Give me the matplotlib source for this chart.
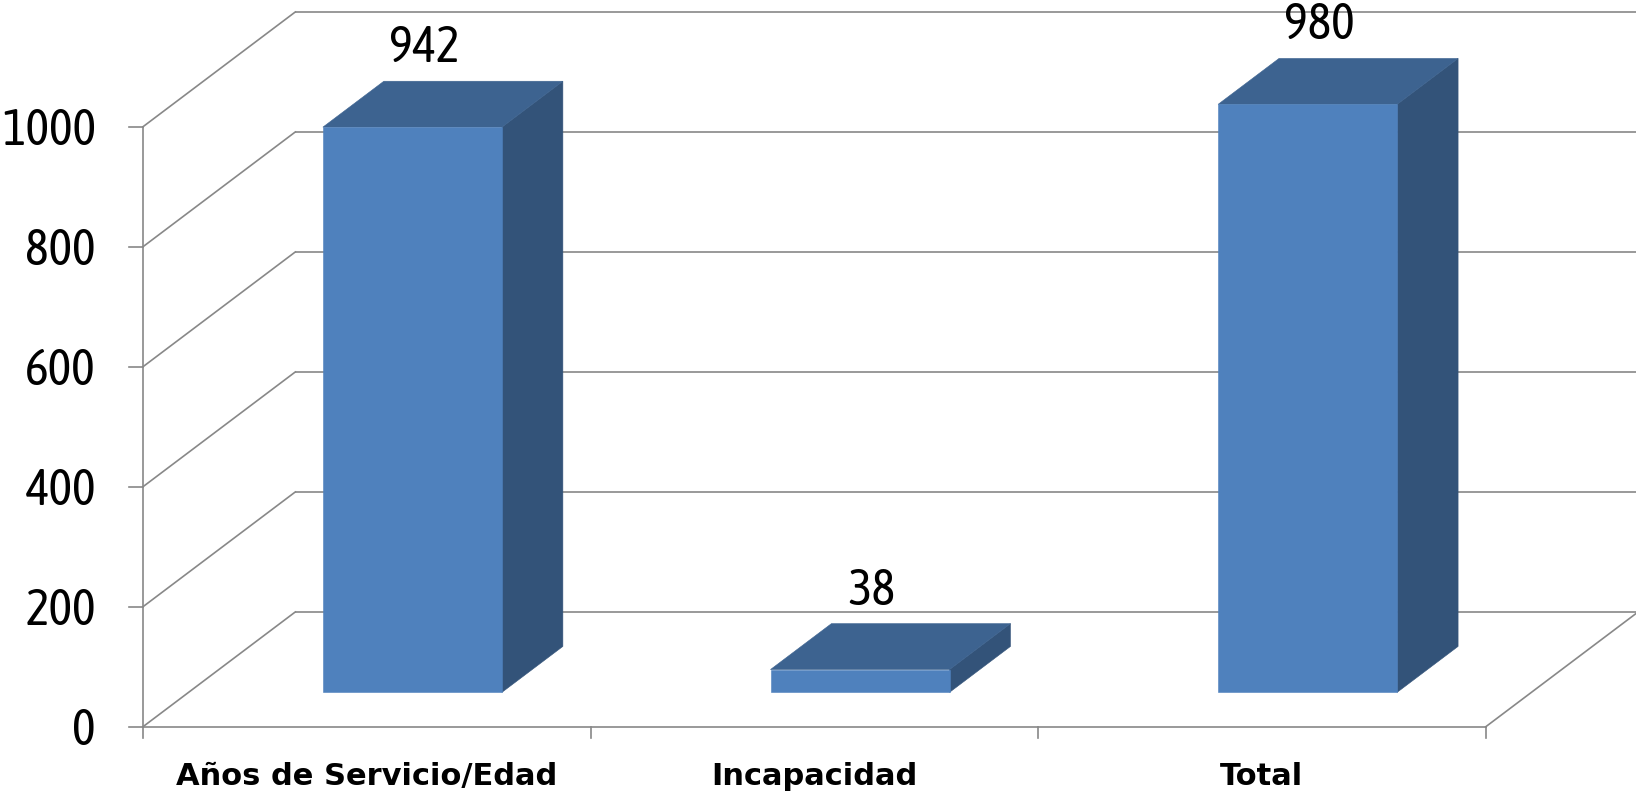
import matplotlib
matplotlib.use("Agg")
import matplotlib.pyplot as plt
from matplotlib.patches import Polygon
from matplotlib.transforms import offset_copy

# ---- data ----
categories = ["Años de Servicio/Edad", "Incapacidad", "Total"]
values = [942, 38, 980]
yticks = [0, 200, 400, 600, 800, 1000]

# ---- style / geometry ----
W, H = 1636, 793
DPI = 100
FRONT = "#4F81BD"
SIDE = "#335379"
TOP = "#3D6390"
GRID = "#888888"
NUMFONT = ["Asap Condensed", "Archivo Narrow", "DejaVu Sans"]

DX = 0.3403    # full depth, horizontal shift in category units
DY = 191.3     # full depth, vertical shift in value units
D0, D1 = 0.3, 0.7   # bar depth range
G0, G1 = 0.3, 0.7   # bar width range inside slot

fig = plt.figure(figsize=(W / DPI, H / DPI), dpi=DPI)
ax = fig.add_axes([0, 0, 1, 1])
ax.set_xlim(-0.3193, 3.3357)
ax.set_ylim(-110.4, 1211.3)
ax.axis("off")

n = len(categories)
ymax = yticks[-1]
lw = 1.2

def P(x, y, d):
    return (x + DX * d, y + DY * d)

# walls: horizontal back lines and side diagonals
for t in yticks:
    bx, by = P(0, t, 1)
    ex, _ = P(n, t, 1)
    ax.plot([bx, ex], [by, by], color=GRID, lw=lw, solid_capstyle="butt", clip_on=False)
    ax.plot([0, bx], [t, by], color=GRID, lw=lw, clip_on=False)
# front vertical axis
ax.plot([0, 0], [0, ymax], color=GRID, lw=lw)
# floor front edge and right diagonal
ax.plot([0, n], [0, 0], color=GRID, lw=lw)
rx, ry = P(n, 0, 1)
ax.plot([n, rx], [0, ry], color=GRID, lw=lw, clip_on=False)

tr = ax.transData
# y tick marks and labels
for t in yticks:
    x0, y0 = tr.transform((0, t))
    ax.plot([x0 - 14, x0], [y0, y0], color=GRID, lw=lw, transform=None)
    ax.text(0, t, str(t), transform=offset_copy(tr, fig=fig, x=-47, y=1, units="dots"),
            ha="right", va="center_baseline", fontsize=36, family=NUMFONT, color="black")
# x tick marks
for i in range(n + 1):
    x0, y0 = tr.transform((i, 0))
    ax.plot([x0, x0], [y0, y0 - 11], color=GRID, lw=lw, transform=None)

# category labels
for i, c in enumerate(categories):
    ax.text(i + 0.5, 0, c, transform=offset_copy(tr, fig=fig, x=0, y=-58, units="dots"),
            ha="center", va="baseline", fontsize=22, fontweight="bold",
            family=["DejaVu Sans"], color="black")

# bars
for i, v in enumerate(values):
    xl, xr = i + G0, i + G1
    front = [P(xl, 0, D0), P(xr, 0, D0), P(xr, v, D0), P(xl, v, D0)]
    side = [P(xr, 0, D0), P(xr, 0, D1), P(xr, v, D1), P(xr, v, D0)]
    top = [P(xl, v, D0), P(xr, v, D0), P(xr, v, D1), P(xl, v, D1)]
    ax.add_patch(Polygon(side, closed=True, fc=SIDE, ec=SIDE, lw=0.4, zorder=3))
    ax.add_patch(Polygon(top, closed=True, fc=TOP, ec=TOP, lw=0.4, zorder=3))
    ax.add_patch(Polygon(front, closed=True, fc=FRONT, ec=FRONT, lw=0.4, zorder=4))
    cx, cy = P(i + 0.5, v, D0)
    ax.text(cx, cy, str(v), transform=offset_copy(tr, fig=fig, x=12, y=65, units="dots"),
            ha="center", va="baseline", fontsize=36, family=NUMFONT, color="black", zorder=5)

fig.savefig("out.png", dpi=DPI)
